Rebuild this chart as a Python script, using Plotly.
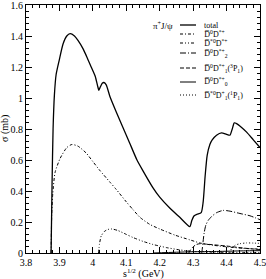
import plotly.graph_objects as go

# total
x_total = [3.875, 3.878, 3.881, 3.885, 3.890, 3.899, 3.911, 3.922, 3.932, 3.945, 3.956, 3.970,
           3.982, 3.995, 4.007, 4.014, 4.018, 4.022, 4.028, 4.033, 4.040, 4.051, 4.070, 4.090,
           4.110, 4.132, 4.150, 4.180, 4.200, 4.230, 4.260, 4.290, 4.296, 4.303, 4.312, 4.324,
           4.330, 4.336, 4.342, 4.350, 4.357, 4.370, 4.385, 4.400, 4.410, 4.417, 4.423, 4.430,
           4.445, 4.460, 4.480, 4.500]
y_total = [0.0, 0.45, 0.80, 1.02, 1.15, 1.24, 1.35, 1.40, 1.415, 1.40, 1.37, 1.32,
           1.265, 1.20, 1.14, 1.08, 1.05, 1.07, 1.095, 1.10, 1.085, 1.01, 0.91, 0.81,
           0.71, 0.60, 0.53, 0.42, 0.36, 0.29, 0.23, 0.17, 0.21, 0.24, 0.25, 0.26,
           0.33, 0.50, 0.63, 0.70, 0.73, 0.76, 0.775, 0.765, 0.76, 0.80, 0.84, 0.835,
           0.81, 0.78, 0.73, 0.68]

# D0bar D*+
x_d0ds = [3.875, 3.877, 3.880, 3.887, 3.902, 3.922, 3.937, 3.955, 3.980, 4.000, 4.020, 4.050,
          4.070, 4.100, 4.120, 4.141, 4.170, 4.200, 4.246, 4.290, 4.320, 4.360, 4.400, 4.450, 4.500]
y_d0ds = [0.0, 0.25, 0.38, 0.52, 0.61, 0.68, 0.70, 0.69, 0.645, 0.59, 0.535, 0.46,
          0.41, 0.33, 0.28, 0.23, 0.185, 0.155, 0.115, 0.085, 0.065, 0.05, 0.04, 0.03, 0.025]

# D*0bar D*+
x_ds0ds = [4.017, 4.020, 4.025, 4.035, 4.045, 4.057, 4.075, 4.100, 4.120, 4.150, 4.180, 4.220,
           4.260, 4.300, 4.350, 4.420, 4.500]
y_ds0ds = [0.0, 0.06, 0.11, 0.14, 0.152, 0.155, 0.145, 0.12, 0.10, 0.075, 0.055, 0.035,
           0.02, 0.01, 0.006, 0.004, 0.003]

# D0bar D2*+
x_d2 = [4.326, 4.329, 4.333, 4.338, 4.345, 4.355, 4.370, 4.390, 4.410, 4.440, 4.470, 4.500]
y_d2 = [0.0, 0.06, 0.13, 0.18, 0.21, 0.235, 0.26, 0.275, 0.27, 0.255, 0.24, 0.215]

# D0bar D1*+ (3P1)
x_d1 = [4.287, 4.292, 4.300, 4.310, 4.320, 4.350, 4.400, 4.450, 4.500]
y_d1 = [0.0, 0.02, 0.04, 0.055, 0.06, 0.055, 0.045, 0.032, 0.022]

# D0bar D0*+
x_d0s = [4.180, 4.250, 4.300, 4.370, 4.450, 4.500]
y_d0s = [0.0, 0.005, 0.008, 0.010, 0.014, 0.015]

# D*0bar D1+ (1P1)
x_d1p = [4.410, 4.415, 4.425, 4.440, 4.460, 4.480, 4.500]
y_d1p = [0.0, 0.03, 0.05, 0.06, 0.065, 0.064, 0.062]

OV = "\u0305"
names = [
    "total",
    "D" + OV + "<sup>0</sup>D<sup>*+</sup>",
    "D" + OV + "<sup>*0</sup>D<sup>*+</sup>",
    "D" + OV + "<sup>0</sup>D<sup>*+</sup><sub>2</sub>",
    "D" + OV + "<sup>0</sup>D<sup>*+</sup><sub>1</sub>(<sup>3</sup>P<sub>1</sub>)",
    "D" + OV + "<sup>0</sup>D<sup>*+</sup><sub>0</sub>",
    "D" + OV + "<sup>*0</sup>D<sup>+</sup><sub>1</sub>(<sup>1</sup>P<sub>1</sub>)",
]

dashes = ["solid", "3px,2px,1px,2px", "3px,2px,1px,2px,1px,2px", "6px,2px,1px,2px",
          "4px,2px", "solid", "1px,2px"]
widths = [1.3, 1.0, 1.0, 1.0, 1.0, 1.0, 1.0]
xs_all = [x_total, x_d0ds, x_ds0ds, x_d2, x_d1, x_d0s, x_d1p]
ys_all = [y_total, y_d0ds, y_ds0ds, y_d2, y_d1, y_d0s, y_d1p]

W, H = 266, 279
ML, MR, MT, MB = 26, 6, 5, 26
PW, PH = W - ML - MR, H - MT - MB


def px2paper(px, py):
    return (px - ML) / PW, (H - MB - py) / PH


fig = go.Figure()
for xs, ys, dash, w, nm in zip(xs_all, ys_all, dashes, widths, names):
    fig.add_trace(go.Scatter(x=xs, y=ys, mode="lines", name=nm, showlegend=False,
                             line=dict(color="black", width=w, dash=dash, shape="spline", smoothing=0.6)))

font = "Liberation Serif, Times New Roman, serif"
axis_common = dict(showline=True, linecolor="black", linewidth=1, mirror="allticks",
                   ticks="inside", ticklen=6, tickcolor="black", showgrid=False, zeroline=False,
                   automargin=False, ticklabeloverflow="allow",
                   tickfont=dict(family=font, size=10, color="black"))

fig.update_xaxes(range=[3.8, 4.5], dtick=0.1, tick0=3.8,
                 minor=dict(dtick=0.02, ticklen=3, ticks="inside", tickcolor="black"),
                 **axis_common)
fig.update_yaxes(range=[0, 1.6], dtick=0.2, tick0=0,
                 minor=dict(dtick=0.04, ticklen=3, ticks="inside", tickcolor="black"),
                 **axis_common)

# axis titles
fig.add_annotation(text="s<sup>1/2</sup> (GeV)", xref="paper", yref="paper", x=0.5, y=0,
                   xanchor="center", yanchor="top", yshift=-12, showarrow=False,
                   font=dict(family=font, size=10, color="black"))
fig.add_annotation(text="σ (mb)", xref="paper", yref="paper", x=0, y=0.5, textangle=-90,
                   xanchor="right", yanchor="middle", xshift=-14, showarrow=False, borderpad=0,
                   font=dict(family=font, size=10, color="black"))

# legend (drawn manually to match compact spacing)
leg_rows = [25, 34, 43, 53, 68, 82, 95]
line_x0, line_x1, text_x = 180, 196, 203
for row, nm, dash, w in zip(leg_rows, names, dashes, widths):
    x0, yy = px2paper(line_x0, row)
    x1, _ = px2paper(line_x1, row)
    fig.add_shape(type="line", xref="paper", yref="paper", x0=x0, x1=x1, y0=yy, y1=yy,
                  line=dict(color="black", width=w, dash=dash))
    tx, _ = px2paper(text_x, row)
    fig.add_annotation(text=nm, xref="paper", yref="paper", x=tx, y=yy, xanchor="left",
                       yanchor="middle", showarrow=False, borderpad=0,
                       font=dict(family=font, size=8, color="black"))

ax, ay = px2paper(174, 25)
fig.add_annotation(text="π<sup>+</sup>J/ψ", xref="paper", yref="paper", x=ax, y=ay,
                   xanchor="right", yanchor="middle", showarrow=False, borderpad=0,
                   font=dict(family=font, size=9, color="black"))

fig.update_layout(
    width=W, height=H,
    margin=dict(l=ML, r=MR, t=MT, b=MB),
    paper_bgcolor="white", plot_bgcolor="white",
    showlegend=False,
)

fig.write_html("out.html", config={"displayModeBar": False},
               post_script="document.body.style.margin='0px';")
